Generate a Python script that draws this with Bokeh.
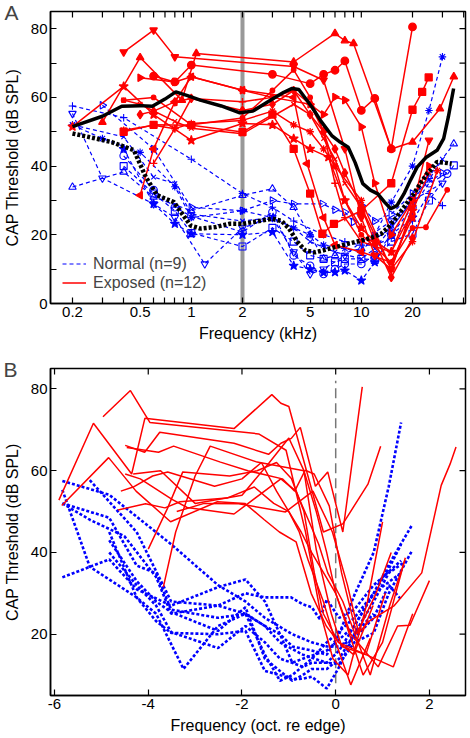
import numpy as np
from bokeh.plotting import figure
from bokeh.models import (FixedTicker, CustomJSTickFormatter, Span, Title, Legend, LegendItem)
from bokeh.layouts import column
from bokeh.embed import file_html
from bokeh.resources import INLINE

FONT = "Liberation Sans"
RED = "#ff0000"
BLUE = "#0000ff"
GREY = "#999999"

# ---------------- data: normal ears (n=9) ----------------
normal_freqs = [
    [0.2, 0.4, 1.0, 2.0, 3.0, 4.0, 6.0, 8.0, 10, 12, 15, 20, 25, 30],
    [0.2, 0.4, 0.6, 0.8, 1.0, 2.0, 3.0, 4.0, 5.0, 7.0, 10, 12, 15, 20, 25, 30],
    [0.2, 0.4, 0.6, 1.0, 2.0, 3.0, 4.0, 5.0, 6.0, 7.0, 10, 15, 20, 25, 35],
    [0.2, 0.3, 0.6, 0.8, 1.2, 2.0, 3.0, 4.0, 5.0, 6.0, 8.0, 10, 15, 20, 30],
    [0.3, 0.6, 1.0, 2.0, 3.0, 4.0, 5.9, 7.0, 8.0, 9.0, 10, 12, 15, 20, 30],
    [0.4, 0.6, 0.8, 1.0, 2.0, 3.0, 4.0, 5.0, 6.0, 7.0, 8.0, 10, 12, 15, 20, 25, 32],
    [0.4, 0.6, 0.8, 1.0, 2.0, 3.0, 4.0, 5.0, 6.0, 7.0, 8.0, 10, 12, 15, 20, 25, 35],
    [0.4, 0.6, 0.8, 1.0, 2.0, 3.0, 4.0, 5.0, 6.0, 7.0, 8.0, 10, 12, 15, 20],
    [0.2, 0.3, 0.5, 0.8, 1.0, 2.0, 3.0, 4.0, 5.0, 6.0, 8.0, 10, 12, 15, 20, 25, 30],
]
normal_thr = [
    [57.5, 54.1, 42, 32, 28, 24, 20, 18, 17, 17, 19, 24, 32, 28.5],
    [52, 48.5, 36.8, 34.9, 26, 24, 25, 22, 18, 15, 13, 16, 22, 30, 36, 42],
    [33.9, 38.3, 31, 27, 31.5, 33.4, 28, 20, 13, 14, 16, 22, 30, 37, 46.5],
    [55.3, 36.5, 29, 25, 11.5, 22, 25, 15, 8.6, 10, 14, 18, 24, 30, 35],
    [57.7, 45, 28, 27, 30, 29, 29, 27.3, 26.6, 23.7, 28.5, 24, 26, 32, 38],
    [43, 33, 28, 25.4, 20.8, 26.6, 14, 11, 8.6, 10, 11.5, 11.5, 14, 20, 28, 35, 37.8],
    [40, 32, 27, 20.5, 16.6, 22, 18, 14, 13, 12, 13, 13, 12.7, 18, 20.3, 30, 40.2],
    [45, 29, 23.2, 20.3, 20, 20.8, 11, 10, 9, 9.1, 9.6, 6.7, 12, 20, 25],
    [52, 48, 44, 34, 25, 27, 25, 22, 20, 17, 16, 15, 20, 29.5, 40, 56.2, 71.8],
]
normal_markers = ["+", "x", "^", "v", ">", "o", "s", "p", "*"]
normal_edges = [11.4, 11.4, 11.4, 11.4, 11.4, 11.4, 11.4, 11.4, 11.4]

# ---------------- data: exposed ears (n=12) ----------------
exposed_freqs = [
    [0.3, 0.5, 0.88, 1.07, 4.0, 7.0, 8.0, 9.0, 15, 20, 29, 35],
    [0.4, 0.6, 0.8, 4.0, 6.0, 8.0, 10, 12, 15, 20, 25],
    [0.6, 0.8, 1.0, 3.0, 5.0, 6.0, 7.0, 8.0, 10, 12, 15, 20],
    [0.4, 0.6, 1.0, 2.0, 3.0, 4.0, 5.0, 5.9, 6.9, 10, 15, 20, 22.8, 24.9],
    [0.5, 0.6, 0.8, 1.0, 2.0, 4.0, 4.8, 6.0, 7.0, 10, 15, 20],
    [0.6, 0.8, 1.0, 2.0, 3.0, 4.0, 5.0, 6.0, 7.0, 8.0, 10, 15, 20],
    [0.2, 0.4, 0.6, 1.0, 2.0, 3.0, 4.0, 5.0, 6.4, 8.0, 10, 12, 15, 20],
    [0.5, 0.6, 0.8, 1.0, 2.0, 3.0, 4.0, 5.0, 6.0, 7.0, 8.0, 10, 12, 15, 20],
    [0.4, 0.6, 0.8, 1.0, 2.0, 3.0, 4.0, 5.0, 6.0, 7.0, 10, 15, 20, 28],
    [0.4, 0.5, 0.8, 1.0, 2.0, 4.0, 5.0, 6.0, 7.0, 8.0, 10, 15, 20, 25],
    [0.5, 0.8, 1.0, 2.0, 3.0, 5.0, 6.0, 7.0, 8.0, 10, 12, 15, 20, 25],
    [0.4, 0.6, 1.0, 2.0, 3.0, 4.0, 5.0, 6.0, 7.0, 8.0, 10, 15, 20, 24, 32],
]
exposed_thr = [
    [52.8, 71.6, 59.2, 72.8, 70.3, 78.6, 76.5, 75.7, 45, 47, 56.7, 66],
    [73.2, 79.6, 71.8, 69, 65, 45, 25, 14, 10, 28, 47.5],
    [66.2, 64.5, 69.4, 66.7, 64, 66.7, 67.9, 70.6, 56.2, 59.7, 45, 80.5],
    [50, 52, 51.9, 49.9, 55, 45, 32, 20.3, 23.2, 27, 35, 56.4, 61.6, 65.8],
    [31.5, 45, 58.7, 66, 62.1, 60, 40.7, 25, 17, 15, 12, 25],
    [40.8, 50.9, 59.7, 58.7, 60, 62, 58, 50, 35, 25, 18, 15, 30],
    [51.5, 63.2, 55, 47.5, 52.4, 52, 48, 45, 42.6, 30, 22, 18, 15, 27],
    [55, 56, 58.7, 59.7, 56.2, 58, 62, 55, 50, 45, 38, 28, 18, 7.6, 19],
    [50.4, 51.9, 50.9, 52.4, 53.3, 56, 52, 50, 45, 40, 30, 10, 18, 38.7],
    [59.2, 58, 53, 51, 49.4, 58, 55, 48, 42, 35, 28, 10, 27, 38],
    [65.7, 64.5, 66, 62.1, 60, 58, 55, 60.1, 59.2, 51.4, 35, 20, 30, 40],
    [59.2, 60, 52, 54, 62, 68, 60, 50, 40, 30, 20, 12, 22, 22.2, 33.1],
]
exposed_markers = ["^", "v", "o", "s", "<", "+", "p", "d", "*", "x", ">", "."]
exposed_edges = [18, 12.5, 13.5, 4.2, 6.4, 9.6, 11.5, 12, 10, 9, 11, 8]

# ---------------- group means ----------------
exposed_mean_freq = [0.2, 0.3, 0.39, 0.5, 0.59, 0.7, 0.81, 0.95, 1.13, 1.5, 1.93, 2.3,
                     3.0, 3.5, 3.92, 4.29, 5.12, 5.8, 6.7, 7.5, 8.37, 9.2, 10.2, 11.3,
                     12.5, 13.7, 14.9, 16.2, 17.8, 19.5, 21.3, 24, 27.9, 30.5, 32.5, 34.9]
exposed_mean_thr = [51.5, 54.5, 57.4, 57.6, 57.4, 59.5, 61.6, 60.5, 59.2, 57.5, 55.5, 56,
                    59.5, 61.5, 62.6, 62.3, 57.2, 53, 48.9, 47, 45.5, 41, 34.9, 33,
                    31.9, 29.5, 27.6, 28.5, 31.9, 36, 39.7, 42.5, 44.6, 48, 54.3, 62.6]
normal_mean_freq = [0.2, 0.34, 0.46, 0.54, 0.63, 0.79, 0.99, 1.13, 1.4, 1.68, 2.0, 2.5,
                    3.0, 3.4, 3.76, 4.2, 4.69, 5.36, 6.0, 7.0, 8.5, 10, 11.5, 13.1, 14.3,
                    15.6, 17.5, 20.4, 22.3, 24.4, 25.4, 27.9, 31, 34]
normal_mean_thr = [49.5, 47, 44.6, 36.8, 31.5, 29.5, 22.7, 21.8, 22.3, 23.2, 23.2, 24,
                   24.7, 24, 21.8, 18, 15.4, 14.9, 15.5, 16.4, 17.5, 18.3, 19.2, 20.3, 22,
                   24.2, 27.5, 32, 35, 37.8, 38.7, 41.2, 41, 40.7]

# ---------------- axes / annotation values ----------------
A_xrange = (0.1485, 41)
A_yrange = (0, 85)
A_xticks = [0.2, 0.5, 1, 2, 5, 10, 20]
A_xminor = [0.3, 0.4, 0.6, 0.7, 0.8, 0.9, 3, 4, 6, 7, 8, 9, 30, 40]
A_yticks = [0, 20, 40, 60, 80]
A_yminor = [10, 30, 50, 70]
B_xrange = (-6.086, 2.77)
B_yrange = (5, 85)
B_xticks = [-6, -4, -2, 0, 2]
B_yticks = [20, 40, 60, 80]
probe_freq = 2.0            # grey bar in A
edge_mark_x = 0.0           # dashed line in B
edge_mark_y = (8, 82)

MARKERS = {
    "^": ("triangle", 0.0, 7.5), "v": ("inverted_triangle", 0.0, 7.5),
    "o": ("circle", 0.0, 7.5), "s": ("square", 0.0, 7),
    "<": ("triangle", np.pi / 2, 7.5), ">": ("triangle", -np.pi / 2, 7.5),
    "+": ("cross", 0.0, 7.5), "p": ("star", 0.0, 9.5), "d": ("diamond", 0.0, 8.5),
    "*": ("asterisk", 0.0, 7.5), "x": ("x", 0.0, 6.5), ".": ("circle", 0.0, 4.5),
}

fmt = CustomJSTickFormatter(code="return String(tick);")


def style_axis(ax, label_standoff):
    ax.major_tick_in = 6
    ax.major_tick_out = 0
    ax.minor_tick_in = 6
    ax.minor_tick_out = 0
    ax.axis_line_width = 1.5
    ax.axis_line_color = "black"
    ax.major_tick_line_width = 1.2
    ax.minor_tick_line_width = 1.2
    ax.major_tick_line_color = "black"
    ax.minor_tick_line_color = "black"
    ax.major_label_text_font = FONT
    ax.major_label_text_font_size = "15px"
    ax.major_label_text_color = "black"
    ax.major_label_standoff = 3
    ax.axis_label_text_font = FONT
    ax.axis_label_text_font_size = "16px"
    ax.axis_label_text_font_style = "normal"
    ax.axis_label_text_color = "black"
    ax.axis_label_standoff = label_standoff


def mirror_ticks(p, xs, ys, xr, yr):
    # inward ticks on the top and right frame edges (half of each dash is clipped away)
    p.scatter(xs, [yr[1]] * len(xs), marker="dash", angle=np.pi / 2, size=12,
              line_color="black", line_width=1.2)
    p.scatter([xr[1]] * len(ys), ys, marker="dash", size=12,
              line_color="black", line_width=1.2)


def panel_letter(p, text, offset):
    p.add_layout(Title(text=text, align="left", offset=offset, standoff=-24,
                       text_font=FONT, text_font_size="21px", text_font_style="normal",
                       text_baseline="alphabetic"), "above")


# ======================= Panel A =======================
pA = figure(width=470, height=345, x_axis_type="log", x_range=A_xrange, y_range=A_yrange,
            output_backend="svg", toolbar_location=None,
            min_border_left=48, min_border_right=2, min_border_top=11, min_border_bottom=42)
pA.grid.visible = False
pA.outline_line_color = "black"
pA.outline_line_width = 1.5

xtA = FixedTicker(ticks=A_xticks, minor_ticks=A_xminor)
ytA = FixedTicker(ticks=A_yticks, minor_ticks=A_yminor)
pA.xaxis.ticker = xtA
pA.xaxis.formatter = fmt
pA.xaxis.axis_label = "Frequency (kHz)"
pA.yaxis.ticker = ytA
pA.yaxis.formatter = fmt
pA.yaxis.axis_label = "CAP Threshold (dB SPL)"
style_axis(pA.xaxis[0], 5)
style_axis(pA.yaxis[0], 7)
mirror_ticks(pA, A_xticks + A_xminor, A_yticks + A_yminor, A_xrange, A_yrange)

bar = Span(location=probe_freq, dimension="height", line_color=GREY, line_width=4, level="underlay")
pA.add_layout(bar)

blue_lines = []
for f, t, m in zip(normal_freqs, normal_thr, normal_markers):
    r = pA.line(f, t, line_color=BLUE, line_width=1.2, line_dash="4 3")
    blue_lines.append(r)
    mk, ang, sz = MARKERS[m]
    fill = BLUE if m == "p" else None
    pA.scatter(f, t, marker=mk, angle=ang, size=sz, line_color=BLUE, line_width=1.1,
               fill_color=fill)

red_lines = []
for f, t, m in zip(exposed_freqs, exposed_thr, exposed_markers):
    r = pA.line(f, t, line_color=RED, line_width=1.5)
    red_lines.append(r)
    mk, ang, sz = MARKERS[m]
    pA.scatter(f, t, marker=mk, angle=ang, size=sz, line_color=RED, line_width=1.3,
               fill_color=RED)

pA.line(normal_mean_freq, normal_mean_thr, line_color="black", line_width=4.5, line_dash="3 2")
pA.line(exposed_mean_freq, exposed_mean_thr, line_color="black", line_width=3.5)

legend = Legend(items=[LegendItem(label="Normal (n=9)", renderers=[blue_lines[0]]),
                       LegendItem(label="Exposed (n=12)", renderers=[red_lines[0]])],
                location=(8, 7), padding=4, spacing=0, margin=0,
                glyph_width=24, glyph_height=19, label_height=19, label_standoff=7,
                label_text_font=FONT, label_text_font_size="16px",
                background_fill_alpha=0, border_line_alpha=0)
pA.add_layout(legend)
panel_letter(pA, "A", -46)

# ======================= Panel B =======================
pB = figure(width=470, height=393, x_range=B_xrange, y_range=B_yrange,
            output_backend="svg", toolbar_location=None,
            min_border_left=49, min_border_right=5, min_border_top=23, min_border_bottom=43)
pB.grid.visible = False
pB.outline_line_color = "black"
pB.outline_line_width = 1.5

xtB = FixedTicker(ticks=B_xticks, minor_ticks=[])
ytB = FixedTicker(ticks=B_yticks, minor_ticks=[])
pB.xaxis.ticker = xtB
pB.xaxis.formatter = fmt
pB.xaxis.axis_label = "Frequency (oct. re edge)"
pB.yaxis.ticker = ytB
pB.yaxis.formatter = fmt
pB.yaxis.axis_label = "CAP Threshold (dB SPL)"
style_axis(pB.xaxis[0], 5)
style_axis(pB.yaxis[0], 7)
mirror_ticks(pB, B_xticks, B_yticks, B_xrange, B_yrange)

pB.segment(x0=[edge_mark_x], y0=[edge_mark_y[0]], x1=[edge_mark_x], y1=[edge_mark_y[1]],
           line_color="#777777", line_width=1.5, line_dash="10 5")

for f, t, e in zip(normal_freqs, normal_thr, normal_edges):
    pB.line(np.log2(np.array(f) / e), t, line_color=BLUE, line_width=2.6, line_dash="3 2")
for f, t, e in zip(exposed_freqs, exposed_thr, exposed_edges):
    pB.line(np.log2(np.array(f) / e), t, line_color=RED, line_width=1.5)

panel_letter(pB, "B", -47)

layout = column(pA, pB, spacing=0)
open("out.html", "w").write(file_html(layout, INLINE))
